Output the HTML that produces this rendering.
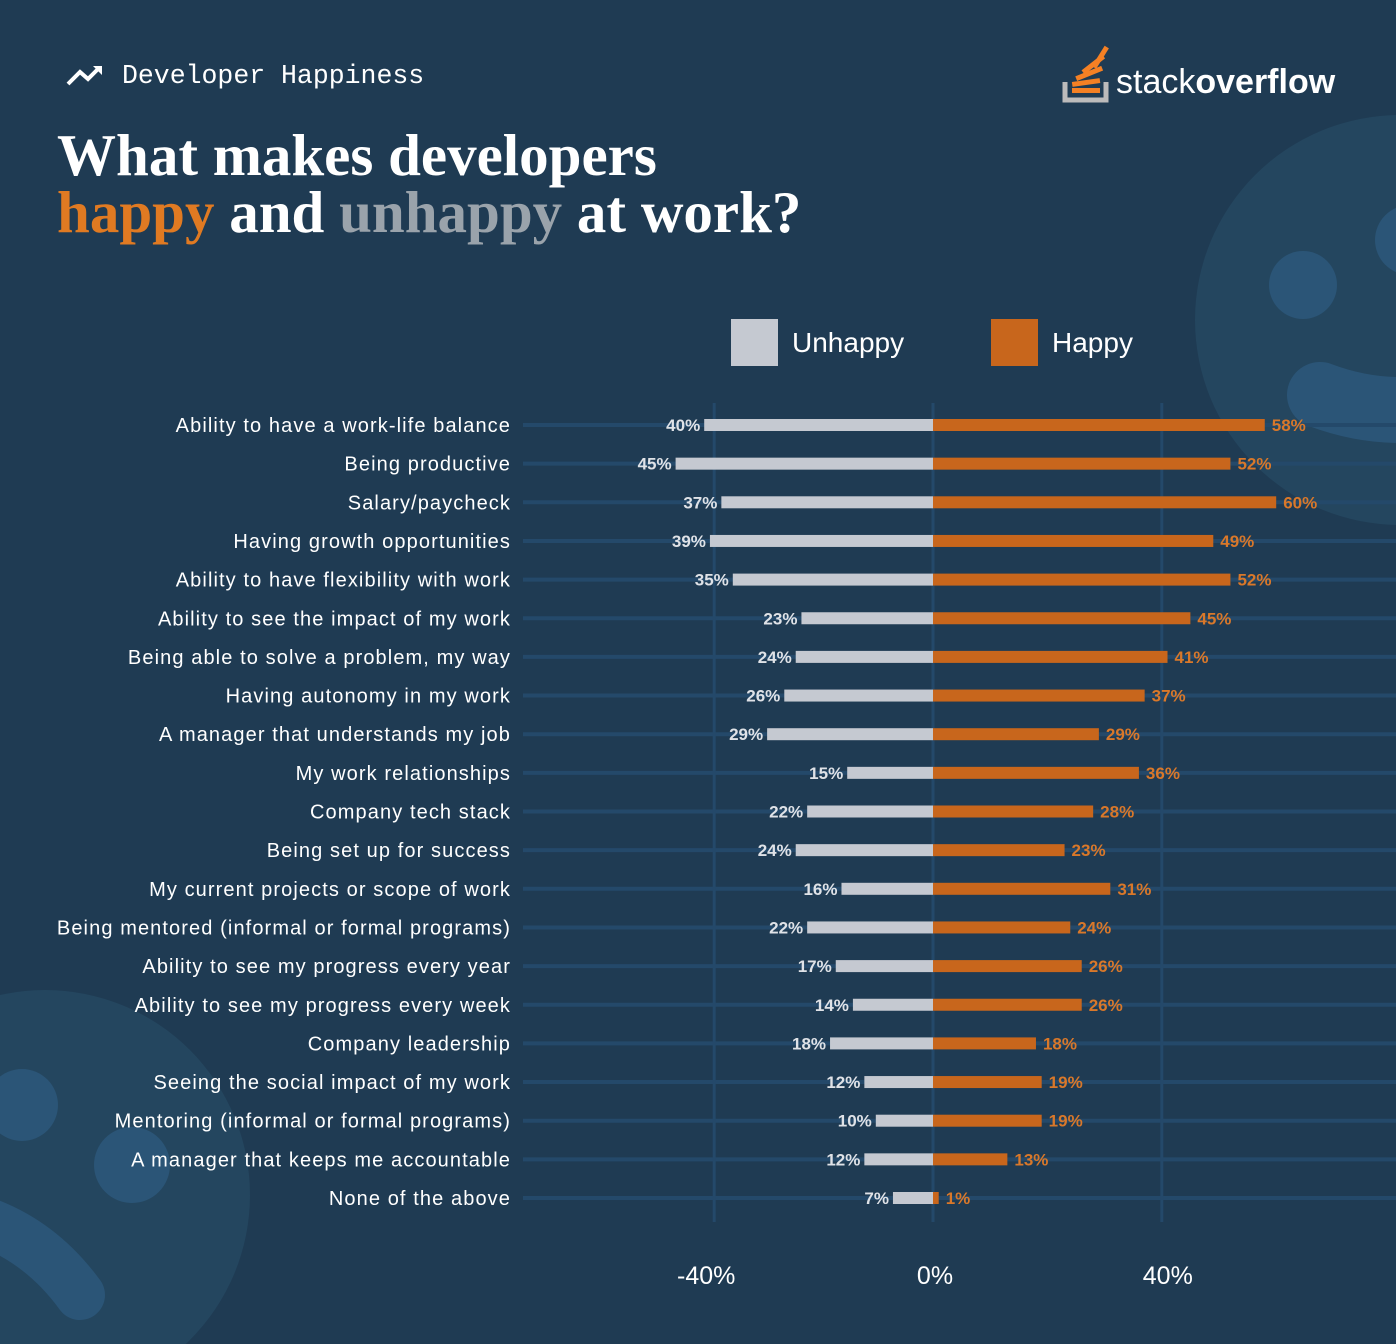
<!DOCTYPE html>
<html><head><meta charset="utf-8"><style>
body{margin:0;width:1396px;height:1344px;background:#1f3b53;overflow:hidden;font-family:"Liberation Sans",sans-serif;}
svg{display:block}
</style></head><body>
<svg width="1396" height="1344" id="svg">
<g>
<circle cx="1400" cy="320" r="205" fill="#24465f"/>
<circle cx="1303" cy="285" r="34" fill="#2b5577"/>
<circle cx="1410" cy="240" r="35" fill="#2b5577"/>
<path d="M1320 395 Q1360 410 1400 410" stroke="#2b5577" stroke-width="66" stroke-linecap="round" fill="none"/>
<circle cx="45" cy="1195" r="205" fill="#24465f"/>
<circle cx="22" cy="1105" r="36" fill="#2b5577"/>
<circle cx="132" cy="1165" r="38" fill="#2b5577"/>
<path d="M-20 1220 Q40 1240 80 1295" stroke="#2b5577" stroke-width="50" stroke-linecap="round" fill="none"/>
</g>
<g>
<path d="M68 84 L80 72 L88 79 L99 68" stroke="#fff" stroke-width="4" fill="none"/>
<path d="M93 66 L102 66 L102 75 Z" fill="#fff"/>
<text x="122" y="83" fill="#fff" font-family="Liberation Mono, monospace" font-size="26.5">Developer Happiness</text>
<text x="57" y="175" fill="#fff" font-family="Liberation Serif, serif" font-weight="bold" font-size="59">What makes developers</text>
<text x="57" y="232" fill="#fff" font-family="Liberation Serif, serif" font-weight="bold" font-size="59"><tspan fill="#e07a22">happy</tspan> and <tspan fill="#9aa3ab">unhappy</tspan> at work?</text>
</g>
<g>
<path d="M1065 82 V100 H1106 V82" stroke="#bcbbbb" stroke-width="5" fill="none"/>
<g fill="#f48024">
<rect x="1072" y="88" width="28" height="5"/>
<rect x="1072" y="80" width="28" height="5" transform="rotate(-8 1086 82)"/>
<rect x="1075" y="71" width="28" height="5" transform="rotate(-22 1089 73)"/>
<rect x="1080" y="62" width="26" height="5" transform="rotate(-38 1093 64)"/>
<rect x="1088" y="55" width="24" height="5" transform="rotate(-58 1100 57)"/>
</g>
<text x="1116" y="93" fill="#fff" font-size="34"><tspan>stack</tspan><tspan font-weight="bold">overflow</tspan></text>
</g>
<g>
<rect x="731" y="319" width="47" height="47" fill="#c5c9d1"/>
<text x="792" y="352" fill="#fff" font-size="28">Unhappy</text>
<rect x="991" y="319" width="47" height="47" fill="#c8661c"/>
<text x="1052" y="352" fill="#fff" font-size="28">Happy</text>
</g>
<g id="plot"></g>
</svg>
<script>
const categories=["Ability to have a work-life balance","Being productive","Salary/paycheck","Having growth opportunities","Ability to have flexibility with work","Ability to see the impact of my work","Being able to solve a problem, my way","Having autonomy in my work","A manager that understands my job","My work relationships","Company tech stack","Being set up for success","My current projects or scope of work","Being mentored (informal or formal programs)","Ability to see my progress every year","Ability to see my progress every week","Company leadership","Seeing the social impact of my work","Mentoring (informal or formal programs)","A manager that keeps me accountable","None of the above"];
const unhappy=[40,45,37,39,35,23,24,26,29,15,22,24,16,22,17,14,18,12,10,12,7];
const happy=[58,52,60,49,52,45,41,37,29,36,28,23,31,24,26,26,18,19,19,13,1];
const ticks=[-40,0,40];
const tickLabels=["-40%","0%","40%"];
const NS="http://www.w3.org/2000/svg";
const plot=document.getElementById('plot');
const x0=933,k=5.72,y0=425,step=38.65;
const xs=v=>x0+v*k;
const ys=i=>y0+i*step;
function mk(t,a,txt){const e=document.createElementNS(NS,t);for(const n in a)e.setAttribute(n,a[n]);if(txt!=null)e.textContent=txt;plot.appendChild(e);return e;}
categories.forEach((c,i)=>{
 const l=mk('line',{x1:523,x2:1396,y1:ys(i),y2:ys(i),stroke:'#24496a','stroke-width':4});
 
 
});
ticks.forEach((t,j)=>{
 const g=mk('line',{x1:xs(t)+(t<0?10:0),x2:xs(t)+(t<0?10:0),y1:403,y2:1222,stroke:'#24496a','stroke-width':3});
 
 
 const tl=mk('text',{x:xs(t)+(t===0?2:t>0?6:2),y:1284,fill:'#fff','font-size':25,'text-anchor':'middle'},tickLabels[j]);
 
 
});
categories.forEach((c,i)=>{
 const y=ys(i);
 const lab=mk('text',{x:511,y:y+7,fill:'#fff','font-size':20,'letter-spacing':1.1,'text-anchor':'end'},c);
 
 
 const u=mk('rect',{x:xs(-unhappy[i]),y:y-6,width:unhappy[i]*k,height:12,fill:'#c5c9d1'});
 
 
 const h=mk('rect',{x:x0,y:y-6,width:happy[i]*k,height:12,fill:'#c8661c'});
 
 
 const ut=mk('text',{x:xs(-unhappy[i])-4,y:y+6,fill:'#dfe2e7','font-size':17,'font-weight':'bold','text-anchor':'end'},unhappy[i]+'%');
 
 
 const ht=mk('text',{x:xs(happy[i])+7,y:y+6,fill:'#d9782a','font-size':17,'font-weight':'bold'},happy[i]+'%');
 
 
});
</script>
</body></html>
